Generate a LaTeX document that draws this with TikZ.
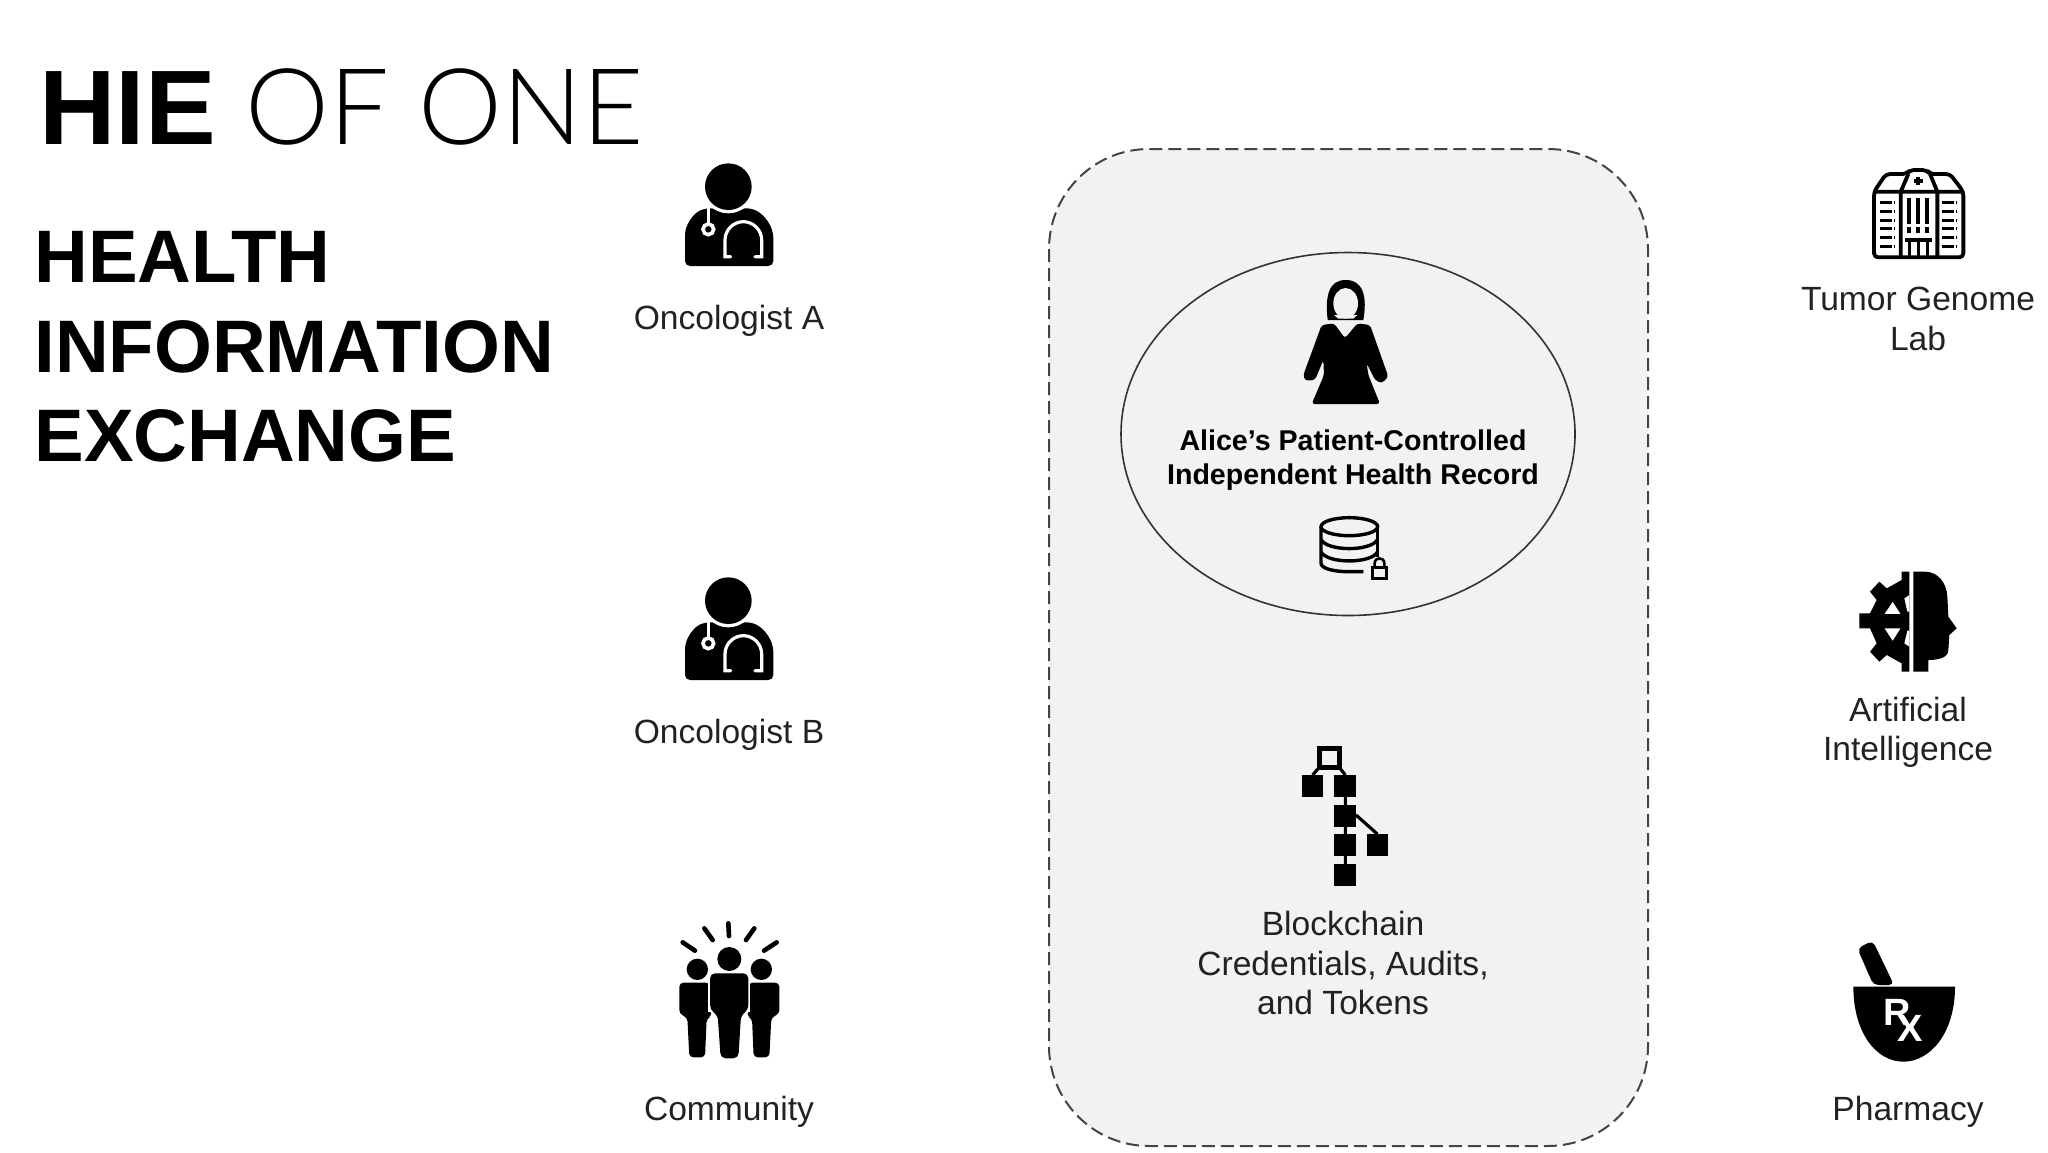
\documentclass[tikz,border=0pt]{standalone}
\usepackage{fontspec}
\setmainfont{Liberation Sans}
\newfontfamily\lightfont{Lato Light}
\definecolor{panelgray}{HTML}{F2F2F2}
\definecolor{panelline}{HTML}{444444}
\definecolor{labelgray}{HTML}{222222}
\tikzset{
    iconlabel/.style={text=labelgray, align=center, font=\fontsize{16.8}{19.7}\selectfont},
    titleline/.style={anchor=base west, inner sep=0pt, font=\fontsize{37.2}{45}\selectfont\bfseries},
    iconline/.style={draw=black, line width=1.9pt, line join=round},
    doctor/.pic={
        % Cuerpo, cabeza y estetoscopio.
        \fill[black, rounded corners=2.5pt] (135,378) -- (135,300) .. controls (135,255) and (160,220) .. (195,205)
            -- (335,205) .. controls (375,225) and (400,260) .. (400,310) -- (400,378) -- cycle;
        \fill[white] (265,140) circle (80);
        \fill[black] (265,140) circle (70);
        \draw[white, line width=1.6pt] (205,205) -- (205,250);
        \draw[white, line width=1.8pt, fill=black] (205,268) circle (16);
        \draw[white, line width=1.6pt, line cap=round] (272,350) -- (255,350) -- (255,300)
            .. controls (255,270) and (280,245) .. (310,245) .. controls (340,245) and (365,270) .. (365,300) -- (365,350) -- (345,350);
    }
}
\begin{document}
\begin{tikzpicture}[x=0.5pt, y=-0.5pt]
    \useasboundingbox (0,0) rectangle (2048,1152);

    % Titulo.
    \node[anchor=base west, inner sep=0pt, font=\fontsize{53}{60}\selectfont] (title) at (39,144)
        {\textbf{HIE} {\lightfont OF ONE}};
    \node[titleline] (health) at (34,282) {HEALTH};
    \node[titleline] (information) at (34,372) {INFORMATION};
    \node[titleline] (exchange) at (34,461) {EXCHANGE};

    % Panel central.
    \draw[fill=panelgray, draw=panelline, line width=1pt, dash pattern=on 6.5pt off 3pt, rounded corners=50pt]
        (1049,149) rectangle (1648,1146);
    \draw[draw=black!80, line width=0.8pt] (1348,434) ellipse (227 and 181.5);

    % Medicos.
    \pic at (640,140) [scale=1/3] {doctor};
    \pic at (640,554) [scale=1/3] {doctor};
    \node[iconlabel] (oncologistA) at (729,321) {Oncologist A};
    \node[iconlabel] (oncologistB) at (729,735) {Oncologist B};

    % Comunidad.
    \begin{scope}[shift={(660,910)}, scale=1/3]
        \foreach \a/\b/\c/\d in {205/40/207/78, 133/55/158/90, 68/97/105/122, 283/55/258/90, 350/97/312/122}
            \draw[line width=2.3pt, line cap=round] (\a,\b) -- (\c,\d);
        \foreach \m in {0,1} {
            \begin{scope}[shift={(\m*416,0)}, xscale=1-2*\m]
                \fill (112,178) circle (32);
                \fill[rounded corners=2pt] (58,218) -- (150,218) -- (155,318) -- (140,325) -- (135,442) -- (88,442) -- (82,322) -- (58,312) -- cycle;
            \end{scope}
        }
        \fill[white] (145,184) rectangle (271,306);
        \draw[white, line width=1pt] (148,300) -- (172,322);
        \draw[white, line width=1pt] (268,300) -- (244,322);
        \fill (208,147) circle (36);
        \fill[rounded corners=2.5pt] (150,190) -- (265,190) -- (265,300) -- (243,315) -- (235,445) -- (182,445) -- (173,315) -- (150,300) -- cycle;
    \end{scope}
    \node[iconlabel] (community) at (729,1112) {Community};

    % Alice.
    \begin{scope}[shift={(1260,260)}, scale=1/3]
        \fill (203,180) .. controls (195,110) and (205,60) .. (257,60) .. controls (310,60) and (322,110) .. (310,180) -- cycle;
        \fill[panelgray] (257,130) ellipse (37 and 46);
        \fill[panelgray] (222,165) -- (292,165) -- (280,176) -- (235,176) -- cycle;
        \fill[rounded corners=1.5pt] (185,195) -- (222,190) -- (255,235) -- (292,190) -- (330,195) -- (385,350) -- (365,370) -- (345,360) -- (320,310) -- (325,345) -- (360,432) -- (155,432) -- (192,345) -- (190,300) -- (165,360) -- (135,362) -- (130,345) -- cycle;
    \end{scope}
    \node[align=center, font=\fontsize{14.3}{17.2}\selectfont\bfseries] (alice) at (1353,460)
        {Alice’s Patient-Controlled\\Independent Health Record};

    % Base de datos con candado.
    \begin{scope}[shift={(1280,500)}, scale=1/3, line width=1.7pt]
        \draw (208,80) ellipse (85 and 27);
        \draw (123,80) -- (123,190) .. controls (123,205) and (160,215) .. (205,215) -- (250,215);
        \draw (293,80) -- (293,172);
        \draw (123,118) .. controls (140,155) and (275,155) .. (293,118);
        \draw (123,155) .. controls (140,192) and (275,192) .. (293,155);
        \draw[line width=1.4pt] (277,203) rectangle (320,236);
        \draw[line width=1.3pt] (284,203) -- (284,190) .. controls (284,170) and (313,170) .. (313,190) -- (313,203);
    \end{scope}

    % Cadena de bloques.
    \begin{scope}[shift={(1280,740)}, scale=1/3]
        \draw[line width=1.6pt] (115,85) -- (98,105) (180,85) -- (196,105) (196,170) -- (196,372) (228,225) -- (292,282);
        \draw[line width=2.6pt, fill=panelgray] (118,25) rectangle (178,83);
        \foreach \a/\b in {65/105, 163/105, 163/195, 163/282, 163/372, 260/282}
            \fill (\a,\b) rectangle ++(65,65);
    \end{scope}
    \node[iconlabel] (blockchain) at (1343,963) {Blockchain\\Credentials, Audits,\\and Tokens};

    % Hospital.
    \begin{scope}[shift={(1850,150)}, scale=1/3]
        \draw[iconline, rounded corners=2pt] (72,125) -- (72,322) -- (340,322) -- (340,125) -- (300,72) -- (240,72) -- (230,60) -- (180,60) -- (170,72) -- (108,72) -- cycle;
        \draw[iconline] (72,125) -- (340,125) (152,125) -- (152,322) (262,125) -- (262,322) (152,125) -- (175,72) (262,125) -- (240,72);
        \draw[line width=2pt] (205,80) -- (205,106) (192,93) -- (218,93);
        \foreach \x in {178,205,232} {
            \draw[line width=2pt] (\x,145) -- (\x,222);
            \draw[line width=2pt] (\x,232) -- (\x,250);
            \draw[line width=1.3pt] (\x,270) -- (\x,320);
        }
        \draw[line width=1.6pt] (165,270) -- (245,270);
        \foreach \y in {157,184,210,236,263,290} {
            \draw[line width=1.5pt, dash pattern=on 6pt off 1pt] (90,\y) -- (135,\y);
            \draw[line width=1.5pt, dash pattern=on 6pt off 1pt] (277,\y) -- (322,\y);
        }
    \end{scope}
    \node[iconlabel] (genome) at (1918,319) {Tumor Genome\\Lab};

    % Inteligencia artificial.
    \begin{scope}[shift={(1850,560)}, scale=1/3]
        \fill (190,35) -- (225,35) .. controls (265,35) and (290,70) .. (292,110) -- (295,170) -- (320,205) -- (298,225) -- (295,270) .. controls (295,295) and (260,300) .. (235,300) -- (235,335) -- (190,335) -- cycle;
        \fill[even odd rule] (178,35) -- (155,35) -- (155,60) -- (110,85) -- (88,65) -- (60,95) -- (80,120) -- (60,160) -- (28,160) -- (28,205) -- (60,205) -- (80,250) -- (60,275) -- (88,305) -- (110,285) -- (155,310) -- (155,335) -- (178,335) -- cycle
            (128,125) -- (152,162) -- (103,162) -- cycle
            (103,205) -- (152,205) -- (128,243) -- cycle;
        \fill[white] (163,115) -- (178,105) -- (178,155) -- (172,155) -- cycle (163,250) -- (178,260) -- (178,212) -- (172,212) -- cycle;
    \end{scope}
    \node[iconlabel] (intelligence) at (1908,732) {Artificial\\Intelligence};

    % Farmacia.
    \begin{scope}[shift={(1840,930)}, scale=1/3]
        \fill[rounded corners=2.5pt] (52,55) -- (98,32) -- (162,165) -- (100,165) -- cycle;
        \fill (40,170) -- (345,170) .. controls (345,310) and (270,395) .. (190,395) .. controls (110,395) and (40,310) .. (40,170) -- cycle;
        \node[text=white, inner sep=0pt, font=\fontsize{19}{19}\selectfont\bfseries] (rx) at (190,270) {R\kern-6.5pt\raisebox{-8pt}{X}};
    \end{scope}
    \node[iconlabel] (pharmacy) at (1908,1112) {Pharmacy};
\end{tikzpicture}
\end{document}
